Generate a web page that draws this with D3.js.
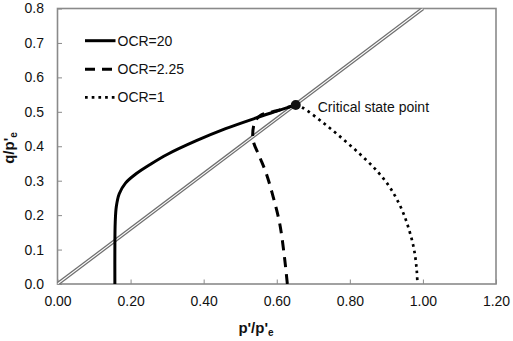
<!DOCTYPE html>
<html>
<head>
<meta charset="utf-8">
<script src="https://cdn.jsdelivr.net/npm/d3@7"></script>
<style>
  html, body { margin: 0; padding: 0; background: #fff; }
  svg { display: block; font-family: "Liberation Sans", Arial, sans-serif; }
</style>
</head>
<body>
<svg id="chart" width="513" height="341"></svg>
<script>
// ---- data ----
const xTickValues = [0, 0.2, 0.4, 0.6, 0.8, 1.0, 1.2];
const yTickValues = [0, 0.1, 0.2, 0.3, 0.4, 0.5, 0.6, 0.7, 0.8];
const seriesNames = ["OCR=20", "OCR=2.25", "OCR=1"];
const ocr20 = [[0.157,0],[0.157,0.10],[0.158,0.18],[0.161,0.225],[0.169,0.262],[0.186,0.293],[0.215,0.32],[0.255,0.348],[0.30,0.376],[0.38,0.416],[0.46,0.451],[0.54,0.481],[0.60,0.502],[0.652,0.52]];
const ocr225 = [[0.629,0],[0.621,0.079],[0.608,0.176],[0.590,0.254],[0.571,0.322],[0.553,0.370],[0.535,0.419],[0.540,0.470],[0.556,0.490],[0.60,0.503],[0.652,0.52]];
const ocr1 = [[0.652,0.52],[0.672,0.511],[0.726,0.469],[0.781,0.421],[0.834,0.371],[0.878,0.324],[0.913,0.275],[0.942,0.217],[0.962,0.158],[0.976,0.099],[0.983,0.041],[0.985,0]];
const cslP = [0, 1.0];
const cslQ = [0, 0.8];
const criticalPoint = [0.652, 0.52];
const criticalLabel = "Critical state point";

// ---- layout ----
const svg = d3.select("#chart");
const x = d3.scaleLinear().domain([0, 1.2]).range([57.5, 496]);
const y = d3.scaleLinear().domain([0, 0.8]).range([284, 8.5]);

svg.append("defs").append("clipPath").attr("id", "clip")
  .append("rect").attr("x", x(0)).attr("y", y(0.8))
  .attr("width", x(1.2) - x(0)).attr("height", y(0) - y(0.8));

// axes (inside ticks)
const gx = svg.append("g").attr("transform", `translate(0,${y(0)})`)
  .call(d3.axisBottom(x).tickValues(xTickValues).tickSize(-4.5).tickPadding(12.5).tickFormat(d3.format(".2f")));
const gy = svg.append("g").attr("transform", `translate(${x(0)},0)`)
  .call(d3.axisLeft(y).tickValues(yTickValues).tickSize(-4.5).tickPadding(13.5).tickFormat(d3.format(".1f")));
[gx, gy].forEach(g => {
  g.select(".domain").remove();
  g.selectAll(".tick line").attr("stroke", "#8a8a8a").attr("stroke-width", 1);
  g.selectAll(".tick text").attr("fill", "#111").style("font-size", "14px").style("font-family", "'Liberation Sans', Arial, sans-serif");
});

// frame
svg.append("rect").attr("x", x(0)).attr("y", y(0.8))
  .attr("width", x(1.2) - x(0)).attr("height", y(0) - y(0.8))
  .attr("fill", "none").attr("stroke", "#8a8a8a").attr("stroke-width", 1.6);

const plot = svg.append("g").attr("clip-path", "url(#clip)");

// critical state line (double line)
const cslData = cslP.map((p, i) => [p, cslQ[i]]);
const straight = d3.line().x(d => x(d[0])).y(d => y(d[1]));
plot.append("path").attr("d", straight(cslData)).attr("stroke", "#6f6f6f").attr("stroke-width", 3.6).attr("fill", "none");
plot.append("path").attr("d", straight(cslData)).attr("stroke", "#fff").attr("stroke-width", 1.1).attr("fill", "none");

const curve = d3.line().x(d => x(d[0])).y(d => y(d[1])).curve(d3.curveCatmullRom.alpha(0.5));
const styles = [
  { data: ocr20, width: 3, dash: null },
  { data: ocr225, width: 3, dash: "10,7" },
  { data: ocr1, width: 2.7, dash: "2.7,4" }
];
// draw dashed and dotted first, solid on top
[styles[1], styles[2], styles[0]].forEach(s => {
  plot.append("path").attr("d", curve(s.data))
    .attr("fill", "none").attr("stroke", "#000").attr("stroke-width", s.width)
    .attr("stroke-dasharray", s.dash);
});

// critical state point
svg.append("circle").attr("cx", x(criticalPoint[0])).attr("cy", y(criticalPoint[1])).attr("r", 5).attr("fill", "#111");
svg.append("text").attr("x", x(criticalPoint[0]) + 22).attr("y", y(criticalPoint[1]) + 7.5)
  .style("font-size", "14px").attr("fill", "#111").text(criticalLabel);

// legend
const legendRows = [40.7, 69.3, 97.3];
styles.forEach((s, i) => {
  svg.append("line").attr("x1", 85).attr("x2", 115.5).attr("y1", legendRows[i]).attr("y2", legendRows[i])
    .attr("stroke", "#000").attr("stroke-width", s.width).attr("stroke-dasharray", s.dash);
  svg.append("text").attr("x", 117.5).attr("y", legendRows[i] + 5)
    .style("font-size", "14px").attr("fill", "#111").text(seriesNames[i]);
});

// axis titles
const xt = svg.append("text").attr("x", 256).attr("y", 332.5).attr("text-anchor", "middle")
  .style("font-size", "15px").style("font-weight", "bold").attr("fill", "#111");
xt.append("tspan").text("p'/p'");
xt.append("tspan").attr("dy", 3).style("font-size", "10px").text("e");

const yt = svg.append("text").attr("transform", `translate(14,148) rotate(-90)`).attr("text-anchor", "middle")
  .style("font-size", "15px").style("font-weight", "bold").attr("fill", "#111");
yt.append("tspan").text("q/p'");
yt.append("tspan").attr("dy", 3).style("font-size", "10px").text("e");
</script>
</body>
</html>
